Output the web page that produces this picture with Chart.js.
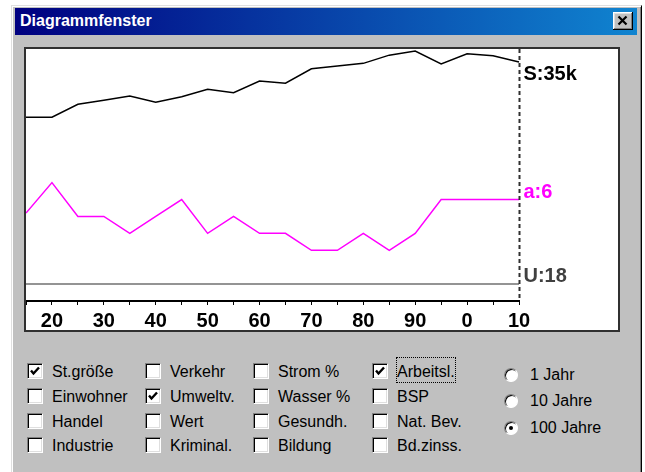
<!DOCTYPE html>
<html>
<head>
<meta charset="utf-8">
<script src="https://cdn.jsdelivr.net/npm/chart.js@4/dist/chart.umd.min.js"></script>
<style>
body { margin: 0; background: #fff; width: 645px; height: 472px; overflow: hidden; font-family: "Liberation Sans", Arial, sans-serif; }
#win { position: absolute; left: 11px; top: 5px; width: 631px; height: 490px; background: #c0c0c0; box-sizing: border-box;
  border: 1px solid; border-color: #dfdfdf #000 #000 #dfdfdf; box-shadow: inset 1px 1px #fff, inset -1px -1px #808080; }
#title { position: absolute; left: 15px; top: 8px; width: 622px; height: 27px; background: linear-gradient(to right, #000080, #1084d0); }
#title span { position: absolute; left: 5px; top: 5px; color: #fff; font-weight: bold; font-size: 16px; line-height: 16px; }
#close { position: absolute; left: 613px; top: 12px; width: 20px; height: 18px; background: #c0c0c0;
  box-shadow: inset -1px -1px #000, inset 1px 1px #fff, inset -2px -2px #808080, inset 2px 2px #dfdfdf; }
#frame { position: absolute; left: 24px; top: 47px; width: 596px; height: 285px; box-sizing: border-box; border: 2px solid #303030; background: #fff; }
#chart { position: absolute; left: 0; top: 0; }
.cb { position: absolute; width: 16px; height: 16px; box-sizing: border-box; background: #fff; border: 1px solid;
  border-color: #808080 #fff #fff #808080; box-shadow: inset 1px 1px #000, inset -1px -1px #dfdfdf; }
.cb svg { position: absolute; left: 1px; top: 1px; }
.lbl { position: absolute; font-size: 16px; line-height: 16px; color: #000; white-space: nowrap; }
.rb { position: absolute; width: 14px; height: 14px; box-sizing: border-box; border-radius: 50%; background: #fff; border: 1px solid;
  border-color: #808080 #fff #fff #808080; box-shadow: inset 1px 1px #000; }
.rb i { position: absolute; left: 4px; top: 4px; width: 4px; height: 4px; border-radius: 50%; background: #000; }
#focus { position: absolute; left: 396px; top: 357px; width: 60px; height: 26px; box-sizing: border-box; border: 1px dotted #000; }
</style>
</head>
<body>
<div id="win"></div>
<div id="title"><span>Diagrammfenster</span></div>
<div id="close"><svg width="20" height="18"><path d="M5.5 4.5 L13.5 12.5 M13.5 4.5 L5.5 12.5" stroke="#000" stroke-width="2.2"/></svg></div>
<div id="frame"><canvas id="chart" width="592" height="281"></canvas></div>
<div id="controls"></div>
<div id="focus"></div>
<script>
// years shown on the 100-year view (one point every 5 years)
var years = [15, 20, 25, 30, 35, 40, 45, 50, 55, 60, 65, 70, 75, 80, 85, 90, 95, 100, 105, 110];
// S: Stadtgröße in thousand
var sizeK = [26.9, 26.9, 28.8, 29.4, 30.0, 29.1, 29.9, 31.0, 30.5, 32.2, 31.9, 34.0, 34.4, 34.8, 36.0, 36.6, 34.7, 36.2, 35.9, 35.0];
// a: Arbeitslosigkeit
var jobless = [5.2, 7, 5, 5, 4, 5, 6, 4, 5, 4, 4, 3, 3, 4, 3, 4, 6, 6, 6, 6];
// U: Umweltverschmutzung
var pollution = [18, 18, 18, 18, 18, 18, 18, 18, 18, 18, 18, 18, 18, 18, 18, 18, 18, 18, 18, 18];

var checkColumns = [
  ['St.größe', 'Einwohner', 'Handel', 'Industrie'],
  ['Verkehr', 'Umweltv.', 'Wert', 'Kriminal.'],
  ['Strom %', 'Wasser %', 'Gesundh.', 'Bildung'],
  ['Arbeitsl.', 'BSP', 'Nat. Bev.', 'Bd.zinss.']
];
var checkedItems = ['St.größe', 'Umweltv.', 'Arbeitsl.'];
var radioItems = ['1 Jahr', '10 Jahre', '100 Jahre'];
var radioSelected = '100 Jahre';

// build the check boxes and radio buttons
var controls = document.getElementById('controls');
var colX = [27, 145, 253, 372];
var rowY = [363, 388, 413, 437];
checkColumns.forEach(function (col, c) {
  col.forEach(function (name, r) {
    var box = document.createElement('div');
    box.className = 'cb';
    box.style.left = colX[c] + 'px';
    box.style.top = rowY[r] + 'px';
    if (checkedItems.indexOf(name) >= 0) {
      box.innerHTML = '<svg width="12" height="12"><path d="M2 5.5 L4.5 8.5 L10 2.5" fill="none" stroke="#000" stroke-width="2.4"/></svg>';
    }
    controls.appendChild(box);
    var lbl = document.createElement('div');
    lbl.className = 'lbl';
    lbl.style.left = (colX[c] + 25) + 'px';
    lbl.style.top = (rowY[r] + 1) + 'px';
    lbl.textContent = name;
    controls.appendChild(lbl);
  });
});
var radioY = [368, 394, 421];
radioItems.forEach(function (name, r) {
  var rb = document.createElement('div');
  rb.className = 'rb';
  rb.style.left = '504px';
  rb.style.top = radioY[r] + 'px';
  if (name === radioSelected) rb.innerHTML = '<i></i>';
  controls.appendChild(rb);
  var lbl = document.createElement('div');
  lbl.className = 'lbl';
  lbl.style.left = '530px';
  lbl.style.top = (radioY[r] - 1.5) + 'px';
  lbl.textContent = name;
  controls.appendChild(lbl);
});

// dashed marker at the current year + value labels at the line ends
var endMarker = {
  id: 'endMarker',
  afterDatasetsDraw: function (chart) {
    var ctx = chart.ctx;
    var xs = chart.scales.x;
    var area = chart.chartArea;
    var last = years.length - 1;
    var px = Math.round(xs.getPixelForValue(last)) + 0.5;
    ctx.save();
    ctx.strokeStyle = '#303030';
    ctx.lineWidth = 2;
    ctx.setLineDash([4, 3]);
    ctx.beginPath();
    ctx.moveTo(px, area.top);
    ctx.lineTo(px, area.bottom);
    ctx.stroke();
    ctx.setLineDash([]);
    ctx.font = 'bold 20px "Liberation Sans", Arial, sans-serif';
    ctx.textBaseline = 'middle';
    chart.data.datasets.forEach(function (ds, i) {
      var meta = chart.getDatasetMeta(i);
      var pt = meta.data[last];
      ctx.fillStyle = ds.labelColor;
      ctx.fillText(ds.label + ':' + ds.data[last] + ds.unit, px + 4, pt.y + ds.labelDy);
    });
    ctx.restore();
  }
};

new Chart(document.getElementById('chart'), {
  type: 'line',
  data: {
    labels: years.map(String),
    datasets: [
      { label: 'S', unit: 'k', data: sizeK, yAxisID: 'yS', borderColor: '#000', borderWidth: 1.5, labelColor: '#000', labelDy: 13 },
      { label: 'a', unit: '', data: jobless, yAxisID: 'yA', borderColor: '#ff00ff', borderWidth: 1.5, labelColor: '#ff00ff', labelDy: -7 },
      { label: 'U', unit: '', data: pollution, yAxisID: 'yU', borderColor: '#707070', borderWidth: 1.5, labelColor: '#404040', labelDy: -8 }
    ]
  },
  options: {
    responsive: false,
    animation: false,
    layout: { padding: { left: 0, right: 99, top: 0, bottom: 0 } },
    elements: { point: { radius: 0 }, line: { tension: 0 } },
    plugins: { legend: { display: false }, tooltip: { enabled: false } },
    scales: {
      x: {
        type: 'category',
        offset: false,
        grid: { display: true, drawOnChartArea: false, drawTicks: true, tickLength: 4, color: '#000', lineWidth: 1 },
        border: { display: true, color: '#000', width: 2 },
        ticks: {
          autoSkip: false,
          maxRotation: 0,
          padding: 4,
          color: '#000',
          font: { family: '"Liberation Sans", Arial, sans-serif', size: 20, weight: 'bold' },
          callback: function (v, i) { return years[i] % 10 === 0 ? String(years[i] % 100) : ''; }
        },
        afterFit: function (s) { s.height = 29; s.paddingLeft = 0; }
      },
      yS: { display: false, min: 0, max: 36.9 },
      yA: { display: false, min: 0, max: 14.9 },
      yU: { display: false, min: 0, max: 266.8 }
    }
  },
  plugins: [endMarker]
});
</script>
</body>
</html>
